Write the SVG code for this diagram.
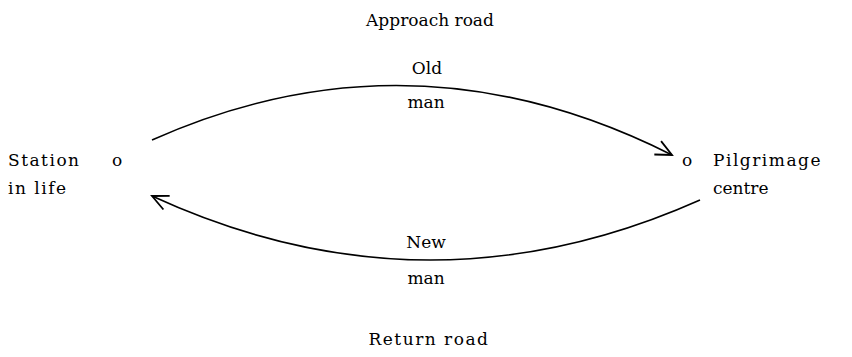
<svg xmlns="http://www.w3.org/2000/svg" width="852" height="357" viewBox="0 0 852 357">
<style>
text{font-family:"DejaVu Serif","Liberation Serif",serif;font-size:17px;fill:#000}
.c{text-anchor:middle}
.w{letter-spacing:1.5px}
.e{fill:none;stroke:#000;stroke-width:1.6}
</style>
<defs>
<marker id="ah" viewBox="0 0 20 20" refX="18" refY="10" markerWidth="20" markerHeight="20" markerUnits="userSpaceOnUse" orient="auto">
<path d="M2,2.5 L18,10 L2,17.5" fill="none" stroke="#000" stroke-width="1.8"/>
</marker>
</defs>
<rect width="852" height="357" fill="#fff"/>
<g id="connectors">
<path class="e" d="M152,140 Q412,24 672,155" marker-end="url(#ah)"/>
<path class="e" d="M700,200 Q426,322 152,196" marker-end="url(#ah)"/>
</g>
<g id="station">
<text class="w" x="8" y="166">Station</text>
<text class="w" x="8" y="194">in life</text>
<text x="112" y="166">o</text>
</g>
<g id="pilgrimage">
<text x="682" y="166">o</text>
<text class="w" x="713" y="166">Pilgrimage</text>
<text x="713" y="194">centre</text>
</g>
<g id="labels">
<text class="c" x="430" y="26">Approach road</text>
<text class="c" x="427" y="74">Old</text>
<text class="c" x="426" y="108">man</text>
<text class="c" x="426" y="248">New</text>
<text class="c" x="426" y="284">man</text>
<text class="c w" x="429" y="345">Return road</text>
</g>
</svg>
